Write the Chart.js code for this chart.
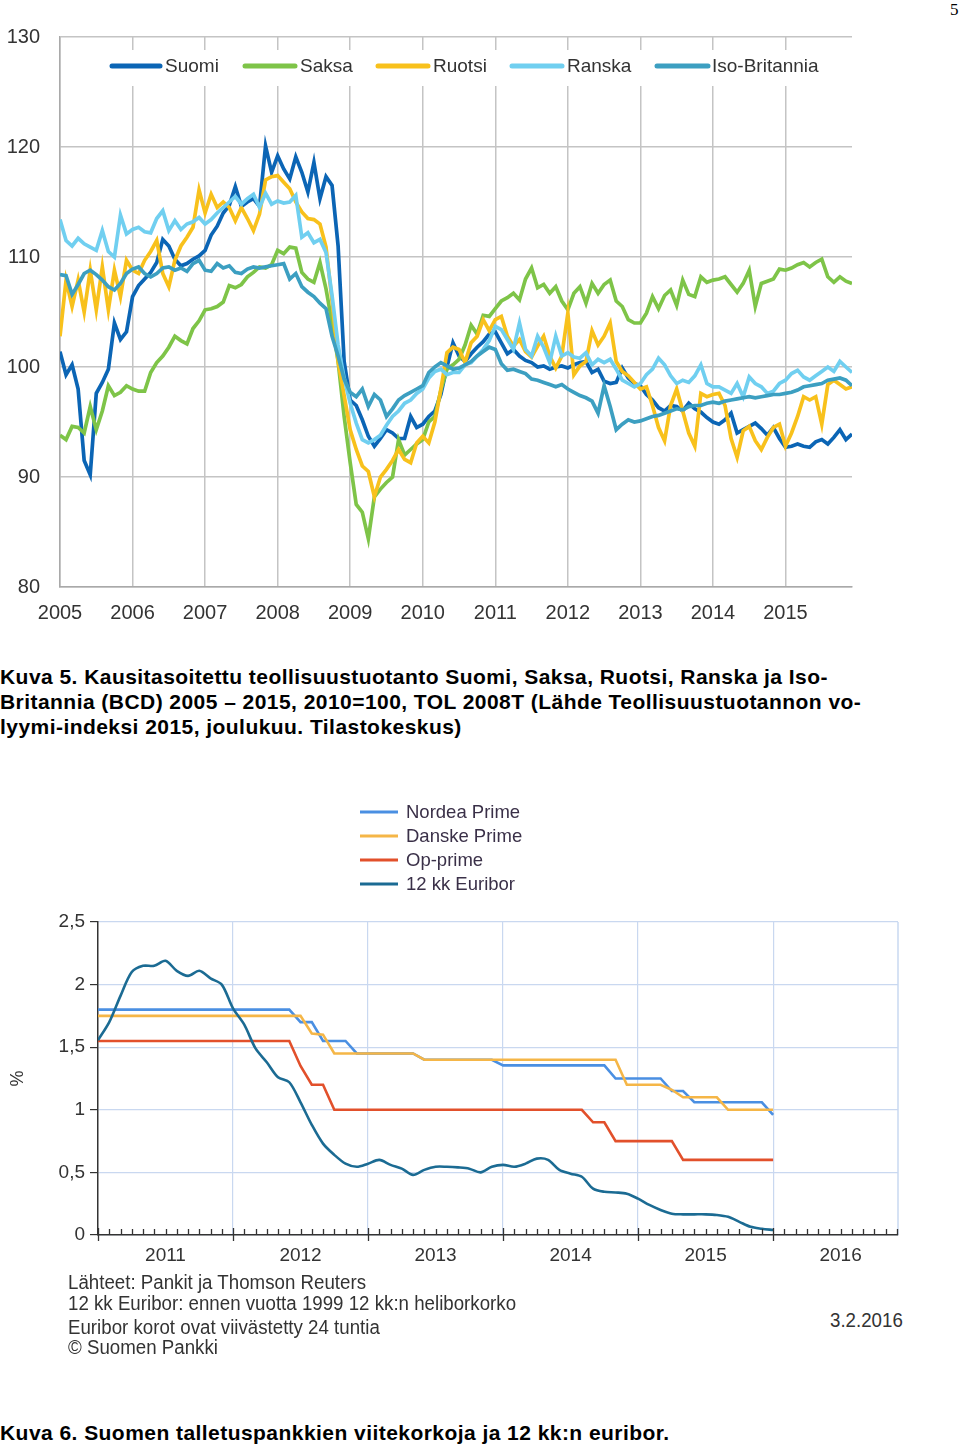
<!DOCTYPE html>
<html><head><meta charset="utf-8">
<script src="https://cdn.jsdelivr.net/npm/chart.js@4.4.1/dist/chart.umd.min.js"></script>
<style>
html,body{margin:0;padding:0;background:#fff;}
body{width:960px;height:1446px;position:relative;overflow:hidden;font-family:"Liberation Sans",Arial,sans-serif;}
.abs{position:absolute;white-space:nowrap;}
canvas{position:absolute;}
.cap{font-weight:bold;font-size:21px;letter-spacing:0.45px;color:#000;line-height:25px;}
.src{font-size:20px;color:#333;line-height:22px;transform:scaleX(0.935);transform-origin:0 50%;}
</style></head>
<body>
<div class="abs" style="left:950px;top:0px;font-family:'Liberation Serif','DejaVu Serif',serif;font-size:17px;">5</div>
<canvas id="c1" width="880" height="640" style="left:0;top:0;"></canvas>
<div class="abs cap" style="left:0;top:664px;">Kuva 5. Kausitasoitettu teollisuustuotanto Suomi, Saksa, Ruotsi, Ranska ja Iso-</div>
<div class="abs cap" style="left:0;top:689px;">Britannia (BCD) 2005 – 2015, 2010=100, TOL 2008T (Lähde Teollisuustuotannon vo-</div>
<div class="abs cap" style="left:0;top:714px;">lyymi-indeksi 2015, joulukuu. Tilastokeskus)</div>
<canvas id="c2" width="920" height="500" style="left:0;top:780px;"></canvas>
<div class="abs src" style="left:68px;top:1271px;">Lähteet: Pankit ja Thomson Reuters</div>
<div class="abs src" style="left:68px;top:1292px;">12 kk Euribor: ennen vuotta 1999 12 kk:n heliborkorko</div>
<div class="abs src" style="left:68px;top:1316px;">Euribor korot ovat viivästetty 24 tuntia</div>
<div class="abs src" style="left:68px;top:1336px;">© Suomen Pankki</div>
<div class="abs src" style="left:830px;top:1309px;">3.2.2016</div>
<div class="abs cap" style="left:0;top:1420px;">Kuva 6. Suomen talletuspankkien viitekorkoja ja 12 kk:n euribor.</div>
<script>
// ---------- Chart 1 data (monthly, 2005-01 .. 2015-12) ----------
const years1 = ['2005','2006','2007','2008','2009','2010','2011','2012','2013','2014','2015'];
const seriesNames1 = ['Suomi','Saksa','Ruotsi','Ranska','Iso-Britannia'];
const suomi = [
101.4, 99.3, 100.2, 98.0, 91.5, 90.2, 97.6, 98.6, 99.8, 104.0, 102.5, 103.2,
106.4, 107.4, 108.0, 108.6, 109.5, 111.6, 111.0, 109.8, 109.2, 109.4, 109.8, 110.1,
110.6, 112.0, 112.8, 114.0, 114.7, 116.4, 114.6, 115.0, 115.3, 114.6, 120.1, 117.7,
119.2, 118.0, 117.1, 119.1, 117.7, 115.9, 118.6, 115.3, 117.3, 116.5, 111.0, 100.5,
97.0, 96.5, 95.2, 93.7, 92.8, 93.5, 94.3, 94.0, 93.5, 93.5, 95.5, 94.5,
94.8, 95.5, 96.0, 97.5, 100.0, 102.2, 101.0, 100.5, 101.2, 101.8, 102.3, 103.0,
103.2, 102.2, 101.2, 101.6, 101.0, 100.6, 100.4, 100.0, 100.1, 99.8, 100.0, 100.1,
99.9, 100.2, 100.4, 100.5, 99.5, 99.8, 98.7, 98.5, 98.6, 99.9, 99.0, 98.5,
98.3, 97.5, 97.0, 96.3, 96.0, 96.5, 96.4, 96.0, 96.7, 96.2, 95.9, 95.4,
95.0, 94.8, 95.2, 95.8, 94.0, 94.3, 94.6, 94.9, 94.4, 93.8, 94.5, 93.5,
92.7, 92.8, 93.0, 92.8, 92.7, 93.2, 93.4, 93.0, 93.6, 94.3, 93.4, 93.9
];
const saksa = [
93.8, 93.4, 94.6, 94.5, 94.0, 96.4, 94.3, 96.0, 98.3, 97.4, 97.7, 98.3,
98.0, 97.8, 97.8, 99.5, 100.4, 101.0, 101.8, 102.8, 102.4, 102.1, 103.5, 104.2,
105.2, 105.3, 105.5, 105.9, 107.4, 107.2, 107.5, 108.2, 108.6, 109.1, 109.0, 109.3,
110.6, 110.3, 110.9, 110.8, 108.6, 108.0, 107.7, 109.5, 107.1, 104.0, 100.5, 95.5,
91.3, 87.5, 86.8, 84.4, 88.2, 88.9, 89.5, 90.0, 93.4, 92.0, 92.5, 93.0,
93.4, 95.0, 95.5, 97.9, 99.8, 100.2, 100.7, 102.0, 103.8, 103.0, 104.7, 104.6,
105.3, 106.0, 106.3, 106.7, 106.1, 108.0, 109.0, 107.2, 107.5, 106.7, 107.3, 106.0,
105.2, 106.7, 107.3, 105.8, 107.6, 106.7, 107.5, 107.9, 106.0, 105.5, 104.3, 104.0,
104.0, 104.9, 106.4, 105.3, 106.5, 107.0, 105.6, 107.9, 106.6, 106.4, 108.2, 107.7,
107.9, 108.0, 108.2, 107.5, 106.8, 107.6, 108.8, 105.5, 107.6, 107.8, 108.0, 108.9,
108.8, 109.0, 109.3, 109.5, 109.1, 109.5, 109.8, 108.2, 107.7, 108.2, 107.8, 107.6
];
const ruotsi = [
102.8, 107.9, 105.5, 107.9, 105.0, 108.8, 105.2, 109.1, 105.2, 108.8, 106.4, 109.7,
108.8, 108.5, 109.7, 110.5, 111.5, 108.5, 107.3, 109.7, 111.0, 111.8, 112.7, 116.1,
114.0, 115.7, 114.5, 115.0, 114.5, 113.3, 114.5, 113.5, 112.4, 113.9, 117.0, 117.3,
117.4, 116.8, 116.2, 115.0, 114.1, 113.5, 113.4, 113.0, 110.9, 106.0, 100.5, 97.4,
94.3, 92.5, 91.0, 90.5, 88.2, 90.0, 90.7, 91.5, 92.5, 91.6, 91.3, 93.1,
93.7, 93.1, 95.0, 98.0, 101.3, 101.8, 101.6, 100.4, 102.2, 102.8, 104.3, 103.3,
104.3, 104.6, 102.8, 101.9, 102.5, 101.4, 100.9, 101.9, 102.8, 101.0, 99.9, 101.0,
104.9, 99.3, 100.1, 100.5, 103.3, 102.0, 102.8, 104.0, 100.5, 99.6, 99.2, 98.6,
98.0, 98.2, 96.5, 94.5, 93.3, 96.5, 98.0, 96.0, 94.0, 92.8, 97.6, 97.3,
97.5, 97.6, 96.5, 93.5, 91.8, 94.2, 94.6, 93.3, 92.5, 93.6, 94.5, 94.8,
92.8, 94.0, 95.5, 97.3, 97.0, 97.3, 94.8, 98.4, 98.8, 98.4, 98.0, 98.2
];
const ranska = [
113.4, 111.5, 111.0, 111.7, 111.2, 110.9, 110.6, 112.4, 110.5, 110.0, 113.8, 112.1,
112.5, 112.7, 112.3, 112.2, 113.5, 114.2, 112.4, 113.3, 112.5, 113.0, 113.2, 113.6,
113.0, 113.4, 114.0, 114.5, 115.0, 115.5, 114.8, 115.3, 115.7, 114.5, 115.8, 114.8,
115.1, 114.9, 115.0, 115.6, 111.8, 112.2, 111.3, 111.6, 110.4, 106.5, 102.0, 99.0,
96.7, 94.9, 93.4, 93.1, 93.4, 93.8, 94.7, 95.5, 96.0, 96.7, 97.0, 97.6,
98.0, 99.0, 99.6, 99.8, 99.3, 99.5, 99.5, 100.2, 100.4, 101.0, 101.6, 102.4,
103.7, 103.4, 102.5, 101.6, 104.0, 101.6, 101.0, 102.8, 101.8, 100.4, 102.8, 101.0,
101.3, 100.9, 100.8, 101.3, 100.2, 100.7, 100.4, 100.7, 99.8, 98.8, 98.5, 98.2,
98.5, 99.3, 99.8, 100.8, 100.2, 99.2, 98.5, 98.8, 98.6, 99.2, 100.2, 98.5,
98.2, 98.2, 97.9, 97.6, 98.5, 97.3, 99.1, 98.5, 98.2, 97.6, 97.8, 98.5,
98.8, 99.4, 99.7, 99.1, 98.8, 99.2, 99.6, 100.0, 99.6, 100.5, 100.0, 99.5
];
const isoBritannia = [
108.4, 108.3, 106.6, 107.5, 108.5, 108.8, 108.4, 107.9, 107.3, 107.0, 107.6, 108.5,
108.9, 109.1, 108.5, 108.2, 108.5, 109.0, 109.1, 108.8, 109.0, 108.7, 109.4, 109.7,
108.8, 108.7, 109.4, 109.0, 109.2, 108.6, 108.5, 108.9, 109.1, 109.0, 109.1, 109.2,
109.3, 109.4, 108.0, 108.5, 107.3, 106.8, 106.4, 105.8, 105.3, 102.8, 101.0, 98.9,
97.7, 97.3, 98.0, 96.4, 97.5, 97.0, 95.5, 96.2, 97.0, 97.4, 97.7, 98.0,
98.3, 99.5, 100.0, 100.4, 100.1, 99.8, 99.9, 100.2, 100.5, 101.0, 101.4, 101.8,
101.6, 100.3, 99.7, 99.8, 99.6, 99.4, 98.9, 98.8, 98.6, 98.4, 98.2, 98.4,
98.0, 97.7, 97.4, 97.2, 96.9, 95.8, 98.3, 96.4, 94.3, 94.8, 95.2, 95.0,
95.1, 95.3, 95.5, 95.6, 95.8, 96.0, 96.2, 96.1, 96.4, 96.5, 96.5, 96.7,
96.8, 96.7, 96.9, 97.0, 97.1, 97.2, 97.3, 97.2, 97.3, 97.4, 97.5, 97.5,
97.6, 97.7, 97.9, 98.2, 98.3, 98.4, 98.5, 98.8, 98.9, 99.0, 98.8, 98.3
];
const colors1 = ['#0b65b5', '#7ec448', '#f8c11c', '#70cff0', '#3c9fc1'];

// ---------- Chart 2 data (monthly, 2011-01 .. 2016-01) ----------
const years2 = ['2011','2012','2013','2014','2015','2016'];
const seriesNames2 = ['Nordea Prime','Danske Prime','Op-prime','12 kk Euribor'];
const nordea = [
1.80,1.80,1.80,1.80,1.80,1.80,1.80,1.80,1.80,1.80,1.80,1.80,
1.80,1.80,1.80,1.80,1.80,1.80,1.70,1.70,1.55,1.55,1.55,1.45,
1.45,1.45,1.45,1.45,1.45,1.40,1.40,1.40,1.40,1.40,1.40,1.40,
1.355,1.355,1.355,1.355,1.355,1.355,1.355,1.355,1.355,1.355,1.25,1.25,
1.25,1.25,1.25,1.15,1.15,1.06,1.06,1.06,1.06,1.06,1.06,1.06,
0.96
];
const danske = [
1.75,1.75,1.75,1.75,1.75,1.75,1.75,1.75,1.75,1.75,1.75,1.75,
1.75,1.75,1.75,1.75,1.75,1.75,1.75,1.61,1.60,1.45,1.45,1.45,
1.45,1.45,1.45,1.45,1.45,1.40,1.40,1.40,1.40,1.40,1.40,1.40,
1.40,1.40,1.40,1.40,1.40,1.40,1.40,1.40,1.40,1.40,1.40,1.20,
1.20,1.20,1.20,1.16,1.10,1.10,1.10,1.10,1.00,1.00,1.00,1.00,
1.00
];
const opPrime = [
1.55,1.55,1.55,1.55,1.55,1.55,1.55,1.55,1.55,1.55,1.55,1.55,
1.55,1.55,1.55,1.55,1.55,1.55,1.35,1.20,1.20,1.00,1.00,1.00,
1.00,1.00,1.00,1.00,1.00,1.00,1.00,1.00,1.00,1.00,1.00,1.00,
1.00,1.00,1.00,1.00,1.00,1.00,1.00,1.00,0.90,0.90,0.75,0.75,
0.75,0.75,0.75,0.75,0.60,0.60,0.60,0.60,0.60,0.60,0.60,0.60,
0.60
];
const euribor = [
1.556,1.70,1.91,2.10,2.15,2.15,2.19,2.11,2.07,2.11,2.05,2.00,
1.81,1.68,1.49,1.38,1.26,1.22,1.06,0.88,0.73,0.64,0.57,0.545,
0.57,0.60,0.56,0.53,0.48,0.52,0.545,0.545,0.54,0.53,0.50,0.545,
0.56,0.545,0.57,0.61,0.60,0.52,0.49,0.465,0.37,0.345,0.34,0.33,
0.29,0.24,0.20,0.17,0.165,0.165,0.165,0.16,0.145,0.105,0.065,0.05,
0.04
];
const colors2 = ['#4a8fe2', '#f5b647', '#e2502b', '#1b6b93'];
const yTicks2 = ['0','0,5','1','1,5','2','2,5'];

// ---------- Chart 1 ----------
const series1 = [suomi, saksa, ruotsi, ranska, isoBritannia];
const legend1Pos = [[112,160,165],[245,295,300],[378,428,433],[512,562,567],[657,708,712]];
const legend1Plugin = {
  id: 'legend1',
  beforeDatasetsDraw(chart) {
    const ctx = chart.ctx;
    ctx.save();
    ctx.fillStyle = '#ffffff';
    ctx.fillRect(96, 50, 746, 36);
    ctx.restore();
  },
  afterDraw(chart) {
    const ctx = chart.ctx;
    ctx.save();
    ctx.font = '19px "Liberation Sans", Arial, sans-serif';
    ctx.textBaseline = 'middle';
    chart.data.datasets.forEach((ds, i) => {
      const p = legend1Pos[i];
      ctx.strokeStyle = ds.borderColor;
      ctx.lineWidth = 5;
      ctx.lineCap = 'round';
      ctx.beginPath(); ctx.moveTo(p[0], 66); ctx.lineTo(p[1], 66); ctx.stroke();
      ctx.fillStyle = '#333';
      ctx.fillText(ds.label, p[2], 67);
    });
    ctx.restore();
  }
};
new Chart(document.getElementById('c1'), {
  type: 'line',
  data: {
    datasets: series1.map((arr, i) => ({
      label: seriesNames1[i],
      data: arr.map((v, m) => ({x: m, y: v})),
      borderColor: colors1[i],
      borderWidth: 3.7,
      pointRadius: 0,
      tension: 0,
      fill: false,
      order: series1.length - i
    }))
  },
  options: {
    responsive: false, animation: false, devicePixelRatio: 1,
    layout: {padding: {left: 0, top: 37, right: 28, bottom: 13}},
    plugins: {legend: {display: false}, tooltip: {enabled: false}},
    scales: {
      x: {
        type: 'linear', min: 0, max: 131,
        afterFit(s) { s.height = 40; },
        grid: {color: '#c4c4c4', lineWidth: 1.5, drawTicks: false},
        border: {color: '#a9a9a9', width: 1.5},
        ticks: {
          stepSize: 12, includeBounds: false, autoSkip: false, maxRotation: 0,
          padding: 14, color: '#333',
          font: {family: '"Liberation Sans", Arial, sans-serif', size: 20},
          callback: v => years1[v / 12]
        }
      },
      y: {
        min: 80, max: 130,
        afterFit(s) { s.width = 60; },
        grid: {color: '#c4c4c4', lineWidth: 1.5, drawTicks: false},
        border: {color: '#a9a9a9', width: 1.5},
        ticks: {stepSize: 10, padding: 20, color: '#333',
          font: {family: '"Liberation Sans", Arial, sans-serif', size: 20}}
      }
    }
  },
  plugins: [legend1Plugin]
});

// ---------- Chart 2 ----------
const series2 = [nordea, danske, opPrime, euribor];
const chart2Plugin = {
  id: 'extras2',
  afterDraw(chart) {
    const ctx = chart.ctx;
    const xs = chart.scales.x, ca = chart.chartArea;
    ctx.save();
    ctx.strokeStyle = '#c9d8f0'; ctx.lineWidth = 1.5;
    ctx.beginPath(); ctx.moveTo(ca.right, ca.top); ctx.lineTo(ca.right, ca.bottom); ctx.stroke();
    ctx.strokeStyle = '#333'; ctx.lineWidth = 1.3;
    for (let m = 0; m <= 71; m++) {
      const px = Math.round(xs.getPixelForValue(m)) + 0.5;
      ctx.beginPath();
      if (m % 12 === 0) { ctx.moveTo(px, ca.bottom - 7); ctx.lineTo(px, ca.bottom + 6); }
      else { ctx.moveTo(px, ca.bottom - 6); ctx.lineTo(px, ca.bottom); }
      ctx.stroke();
    }
    ctx.font = '18.5px "Liberation Sans", Arial, sans-serif';
    ctx.textBaseline = 'middle';
    chart.data.datasets.forEach((ds, i) => {
      const y = 32 + i * 24;
      ctx.strokeStyle = ds.borderColor; ctx.lineWidth = 3; ctx.lineCap = 'butt';
      ctx.beginPath(); ctx.moveTo(360, y); ctx.lineTo(398, y); ctx.stroke();
      ctx.fillStyle = '#3a3048';
      ctx.fillText(ds.label, 406, y + 1);
    });
    ctx.restore();
  }
};
new Chart(document.getElementById('c2'), {
  type: 'line',
  data: {
    datasets: series2.map((arr, i) => ({
      label: seriesNames2[i],
      data: arr.map((v, m) => ({x: m, y: v})),
      borderColor: colors2[i],
      borderWidth: 2.6,
      pointRadius: 0,
      tension: i === 3 ? 0.3 : 0,
      fill: false,
      order: series2.length - i
    }))
  },
  options: {
    responsive: false, animation: false, devicePixelRatio: 1,
    layout: {padding: {left: 0, top: 142, right: 22, bottom: 9}},
    plugins: {legend: {display: false}, tooltip: {enabled: false}},
    scales: {
      x: {
        type: 'linear', min: 0, max: 71.1,
        afterFit(s) { s.height = 36; },
        grid: {
          drawTicks: false, lineWidth: 1.2,
          color: c => (c.tick && c.tick.value > 0 && c.tick.value % 12 === 0) ? '#c9d8f0' : 'rgba(0,0,0,0)'
        },
        border: {color: '#333', width: 1.5},
        ticks: {
          stepSize: 6, includeBounds: false, autoSkip: false, maxRotation: 0,
          padding: 9, color: '#333',
          font: {family: '"Liberation Sans", Arial, sans-serif', size: 19},
          callback: v => (v % 12 === 6) ? years2[(v - 6) / 12] : ''
        }
      },
      y: {
        min: 0, max: 2.5,
        afterFit(s) { s.width = 98; },
        title: {display: true, text: '%', color: '#333', padding: {top: 7, bottom: 0},
          font: {family: '"Liberation Sans", Arial, sans-serif', size: 18}},
        grid: {color: '#c9d8f0', lineWidth: 1.2, drawTicks: true, tickLength: 8, tickColor: '#333'},
        border: {color: '#333', width: 1.5},
        ticks: {stepSize: 0.5, padding: 5, color: '#333',
          font: {family: '"Liberation Sans", Arial, sans-serif', size: 19},
          callback: v => yTicks2[Math.round(v * 2)]}
      }
    }
  },
  plugins: [chart2Plugin]
});
</script>
</body></html>
